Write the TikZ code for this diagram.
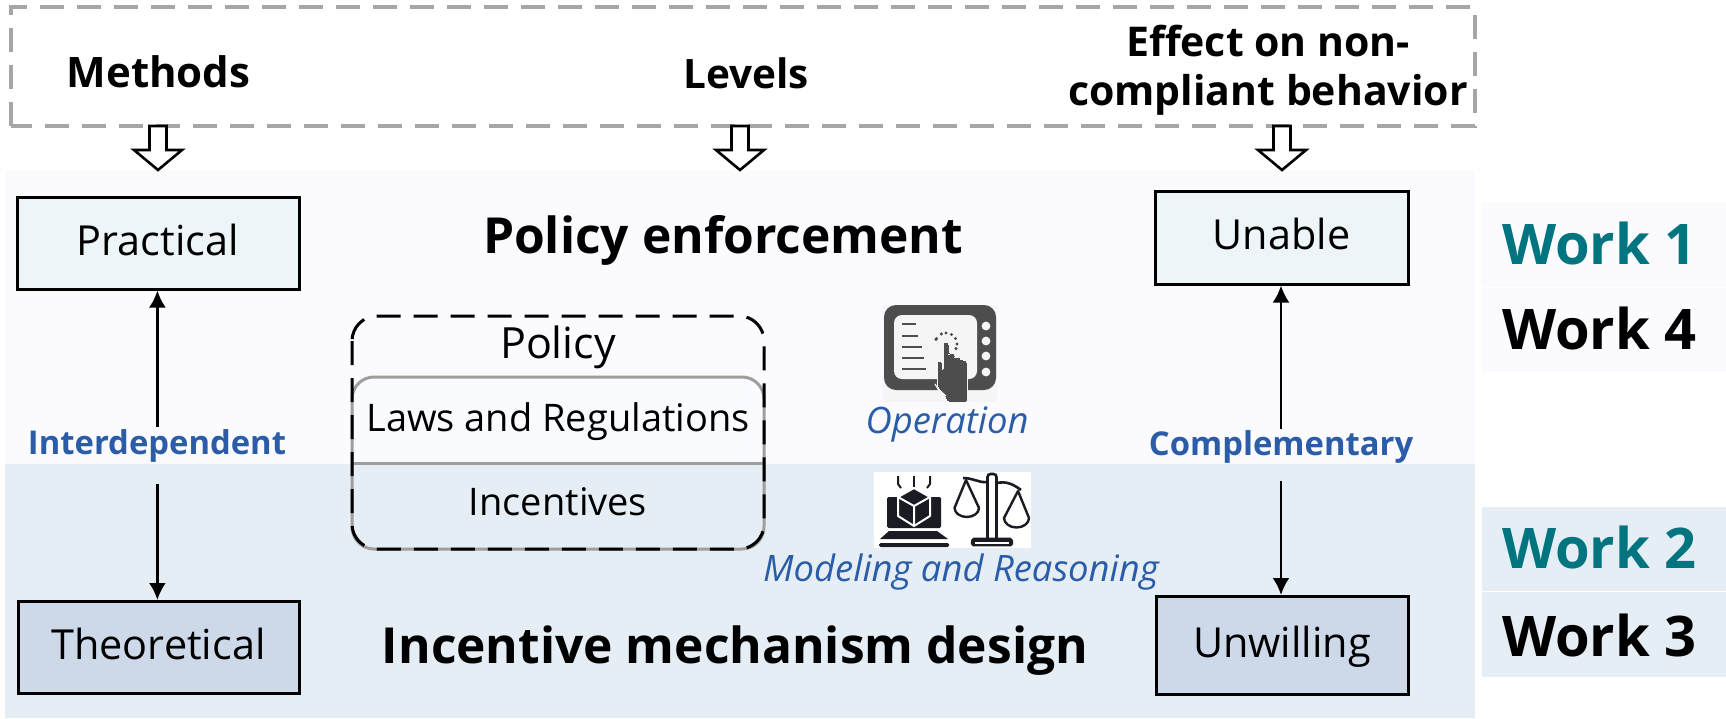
\documentclass[tikz,border=0pt]{standalone}
\usepackage{fontspec}
\setmainfont{Open Sans}
\usetikzlibrary{arrows.meta,calc}
\definecolor{topbg}{HTML}{FAFAFF}
\definecolor{lowbg}{HTML}{E5EDF5}
\definecolor{lightbox}{HTML}{EDF5F9}
\definecolor{darkbox}{HTML}{CDD9E9}
\definecolor{lawsbg}{HTML}{F9FBFF}
\definecolor{bluetxt}{HTML}{2A5CA8}
\definecolor{teal1}{HTML}{00747F}
\definecolor{icongray}{HTML}{4D4D4D}
\definecolor{iconpale}{HTML}{F5F5F5}
\definecolor{icondark}{HTML}{1A1B23}
\newcommand{\fsz}[1]{\fontsize{#1pt}{#1pt}\selectfont}
\tikzset{
  x=1pt,y=-1pt,
  hdr/.style={font=\fsz{41}\bfseries,align=center,inner sep=0pt},
  bigtitle/.style={font=\fsz{49.7}\bfseries,inner sep=0pt,text height=36pt,text depth=0pt},
  statebox/.style={draw=black,line width=3pt,minimum height=92pt,inner sep=0pt,font=\fsz{41.4},text height=32pt,text depth=8pt},
  plain/.style={font=\fsz{38},inner sep=0pt},
  relabel/.style={font=\fsz{32.8}\bfseries,text=bluetxt,inner sep=0pt},
  itlabel/.style={font=\fsz{36.4}\itshape,text=bluetxt,inner sep=0pt},
  worklabel/.style={font=\fsz{56}\bfseries,anchor=west,inner sep=0pt},
  link/.style={line width=2.7pt,-{Latex[length=17pt,width=17pt]}},
  hollow/.style={draw=black,line width=2.6pt,fill=white,line join=miter},
}
\newcommand{\hollowarrow}[1]{\draw[hollow] ($(#1)+(-8.5,0)$) -- ($(#1)+(8.5,0)$) -- ($(#1)+(8.5,24)$) -- ($(#1)+(24,24)$) -- ($(#1)+(0,44)$) -- ($(#1)+(-24,24)$) -- ($(#1)+(-8.5,24)$) -- cycle;}
\begin{document}
\begin{tikzpicture}
\useasboundingbox (0,0) rectangle (1726,718);
\fill[white] (0,0) rectangle (1726,718);
% panels
\fill[topbg] (5,170) rectangle (1475,464);
\fill[lowbg] (5,464) rectangle (1475,718);
\fill[topbg] (1482,202) rectangle (1726,372);
\fill[white] (1482,286.5) rectangle (1726,287.5);
\fill[lowbg] (1482,507) rectangle (1726,677);
\fill[white] (1482,591) rectangle (1726,592);
% header
\draw[draw=black!35,line width=3.5pt,dash pattern=on 24pt off 13pt] (11,126) -- (11,7) -- (1475,7) -- (1475,126) -- cycle;
\node[hdr,font=\fsz{42}\bfseries] (methods) at (158.5,72) {Methods};
\node[hdr,font=\fsz{40.5}\bfseries] (levels) at (746,73) {Levels};
\node[hdr] (effect) at (1268,70) {Effect on non-\\[8pt]compliant behavior};
\coordinate (ha) at (158,126);
\coordinate (hb) at (740,126);
\coordinate (hc) at (1282,126);
\hollowarrow{ha}
\hollowarrow{hb}
\hollowarrow{hc}
% state boxes
\node[statebox,fill=lightbox,minimum width=282pt] (practical) at (158,243) {Practical};
\node[statebox,fill=lightbox,minimum width=253pt,minimum height=93pt] (unable) at (1281.5,237.5) {Unable};
\node[statebox,fill=darkbox,minimum width=281pt] (theoretical) at (158.5,647.5) {Theoretical};
\node[statebox,fill=darkbox,minimum width=252pt,minimum height=98pt] (unwilling) at (1282,645.5) {Unwilling};
% relations
\node[relabel] (interdep) at (157,446) {Interdependent};
\node[relabel] (compl) at (1281,447) {Complementary};
\coordinate (ia) at (157.4,427);
\coordinate (ib) at (157.4,484);
\coordinate (ca) at (1281,429);
\coordinate (cb) at (1281,481);
\draw[link] (ia) -- (ia |- practical.south);
\draw[link] (ib) -- (ib |- theoretical.north);
\draw[link] (ca) -- (ca |- unable.south);
\draw[link] (cb) -- (cb |- unwilling.north);
% titles
\node[bigtitle] (ptitle) at (723,235) {Policy enforcement};
\node[bigtitle] (ititle) at (735,645) {Incentive mechanism design};
% policy box
\begin{scope}
\clip (300,380) rectangle (747,463);
\fill[lawsbg,rounded corners=20pt] (352,378) rectangle (764,520);
\end{scope}
\draw[black!38,line width=3pt,rounded corners=22pt] (352,377) rectangle (764,549);
\draw[black!38,line width=3pt] (352,463) -- (764,463);
\draw[black,line width=3pt,dash pattern=on 24pt off 13pt,rounded corners=25pt] (352,316) rectangle (764,549);
\node[font=\fsz{43},inner sep=0pt] (policy) at (558,347) {Policy};
\node[plain] (laws) at (558,422) {Laws and Regulations};
\node[plain] (incent) at (558,502) {Incentives};
% tablet icon
\fill[iconpale] (883,305) rectangle (997,402);
\fill[icongray,rounded corners=12pt] (884,305) rectangle (996,390);
\fill[iconpale,rounded corners=8pt] (894,315) rectangle (977,379);
\foreach \yy in {326,341,356,372} \fill[iconpale] (986,\yy) circle (4.4);
\foreach \yy/\xe in {324/916,336/918,347/922,358/924,369/926} \draw[icongray,line width=2.8pt] (902,\yy) -- (\xe,\yy);
\foreach \aa in {-150,-115,-90,-60,-30,0,25,205} \fill[icongray] ($(946,344)+(\aa:11)$) circle (1.7);
\draw[icongray,line width=0pt,fill=icongray,rounded corners=2.5pt,draw=iconpale] (947,402) -- (946,397) -- (937,386) -- (937,361) -- (942,361) -- (943,371) -- (943,342) -- (949,342) -- (949,354) -- (951,353) -- (955,353) -- (955,357) -- (957,357) -- (961,357) -- (961,360) -- (967,360) -- (968,402) -- cycle;
\draw[iconpale,line width=1.2pt] (935,384) -- (938,389) -- (946,396);
% laptop and scale icon
\fill[white] (874,472) rectangle (1031,548);
\fill[icondark,rounded corners=1.5pt] (887,497) rectangle (941,528);
\fill[icondark] (889,531) -- (937,531) -- (948,539) -- (880,539) -- cycle;
\fill[icondark,rounded corners=1.5pt] (879,543) rectangle (949,547);
\draw[icondark,line width=2pt] (914,476) -- (914,487);
\draw[icondark,line width=2pt] (898,476) -- (898,484) -- (901,488);
\draw[icondark,line width=2pt] (930,476) -- (930,484) -- (927,488);
\fill[icondark,draw=white,line width=2pt,line join=round] (914,488) -- (930,497) -- (930,516) -- (914,526) -- (898,516) -- (898,497) -- cycle;
\draw[white,line width=2pt] (898,497) -- (914,506) -- (930,497) (914,506) -- (914,526);
\draw[icondark,line width=2.6pt,rounded corners=3pt] (987.5,538) -- (987.5,474) -- (996.5,474) -- (996.5,538);
\draw[icondark,line width=2.6pt,rounded corners=1.5pt,fill=icondark] (972,545) -- (972.5,539) -- (1011.5,539) -- (1012,545) -- cycle;
\fill[white] (975,542) rectangle (1009,544);
\draw[icondark,line width=2.6pt] (963,478) .. controls (973,478) and (979,483) .. (987,482);
\draw[icondark,line width=2.6pt] (997,483) .. controls (1006,481) and (1013,484) .. (1021,490);
\draw[icondark,line width=2.4pt,line join=round] (954.5,508) -- (966,480) -- (979,508) arc (0:180:12.2 and 9) -- cycle;
\draw[icondark,line width=2.4pt,line join=round] (1004,518) -- (1018,491) -- (1029,518) arc (0:180:12.5 and 9.5) -- cycle;
% labels
\node[itlabel] (operation) at (947,424) {Operation};
\node[itlabel] (modeling) at (961,572) {Modeling and Reasoning};
% work labels
\node[worklabel,text=teal1] (w1) at (1502,243) {Work 1};
\node[worklabel] (w4) at (1502,328) {Work 4};
\node[worklabel,text=teal1] (w2) at (1502,547) {Work 2};
\node[worklabel] (w3) at (1502,635) {Work 3};
\end{tikzpicture}
\end{document}
